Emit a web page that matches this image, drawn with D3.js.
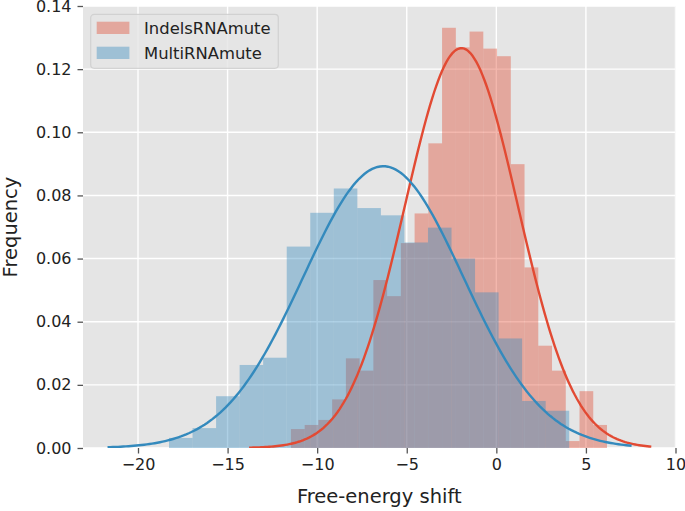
<!DOCTYPE html>
<html><head><meta charset="utf-8">
<script src="https://cdn.jsdelivr.net/npm/d3@7/dist/d3.min.js"></script>
<style>
body{margin:0;background:#fff}
text{font-family:"DejaVu Sans",sans-serif}
</style>
</head><body>
<svg id="chart" width="685" height="511"></svg>
<script>
// ---------------- data ----------------
const seriesNames = ["IndelsRNAmute", "MultiRNAmute"];
const seriesColors = ["#E24A33", "#348ABD"];

// IndelsRNAmute histogram (density), 23 bins
const indelsBinStart = -11.465;
const indelsBinWidth = 0.767;
const indelsFreq = [0.0060, 0.0073, 0.0089, 0.0154, 0.0284, 0.0245, 0.0532, 0.0481,
  0.0649, 0.0743, 0.0965, 0.1331, 0.1269, 0.1319, 0.1265, 0.1241, 0.0899, 0.0572,
  0.0324, 0.0245, 0.0022, 0.0180, 0.0073];

// MultiRNAmute histogram (density), 17 bins
const multiBinStart = -18.27;
const multiBinWidth = 1.314;
const multiFreq = [0.0032, 0.0063, 0.0164, 0.0263, 0.0286, 0.0638, 0.0745, 0.0822,
  0.0760, 0.0737, 0.0651, 0.0698, 0.0600, 0.0493, 0.0347, 0.0149, 0.0118];

// fitted normal curves: [mean, sd, support start, support end]
const indelsFit = [-1.95, 3.15, -13.8, 8.65];
const multiFit = [-6.31, 4.47, -21.7, 7.55];

const xTicks = [-20, -15, -10, -5, 0, 5, 10];
const yTicks = [0.00, 0.02, 0.04, 0.06, 0.08, 0.10, 0.12, 0.14];
const xDomain = [-23.07, 10.0];
const yDomain = [0, 0.14];
const xTitle = "Free-energy shift";
const yTitle = "Frequency";

// ---------------- layout ----------------
const L = 83, R = 675.5, T = 6, B = 448;
const svg = d3.select("#chart");
const x = d3.scaleLinear().domain(xDomain).range([L, R]);
const y = d3.scaleLinear().domain(yDomain).range([B, T]);

svg.append("defs").append("clipPath").attr("id", "clip")
  .append("rect").attr("x", L).attr("y", T).attr("width", R - L).attr("height", B - T);

svg.append("rect").attr("x", L).attr("y", T).attr("width", R - L).attr("height", B - T)
  .attr("fill", "#E5E5E5");

// grid
const grid = svg.append("g").attr("clip-path", "url(#clip)");
grid.selectAll("line.gx").data(xTicks).join("line")
  .attr("x1", d => x(d)).attr("x2", d => x(d)).attr("y1", T).attr("y2", B)
  .attr("stroke", "#fff").attr("stroke-width", 1.4);
grid.selectAll("line.gy").data(yTicks).enter().append("line")
  .attr("x1", L).attr("x2", R).attr("y1", d => y(d)).attr("y2", d => y(d))
  .attr("stroke", "#fff").attr("stroke-width", 1.4);

const plot = svg.append("g").attr("clip-path", "url(#clip)");

function bins(start, width, freq) {
  return freq.map((f, i) => ({x0: start + i * width, x1: start + (i + 1) * width, f}));
}
const hists = [bins(indelsBinStart, indelsBinWidth, indelsFreq),
               bins(multiBinStart, multiBinWidth, multiFreq)];
hists.forEach((h, k) => {
  plot.append("g").selectAll("rect").data(h).join("rect")
    .attr("x", d => x(d.x0)).attr("width", d => x(d.x1) - x(d.x0))
    .attr("y", d => y(d.f)).attr("height", d => y(0) - y(d.f))
    .attr("fill", seriesColors[k]).attr("fill-opacity", 0.4);
});

function fitPoints(p) {
  const [m, s, a, b] = p;
  return d3.range(0, 201).map(i => {
    const xv = a + (b - a) * i / 200;
    return [xv, Math.exp(-0.5 * ((xv - m) / s) ** 2) / (s * Math.sqrt(2 * Math.PI))];
  });
}
const line = d3.line().x(d => x(d[0])).y(d => y(d[1]));
[indelsFit, multiFit].forEach((p, k) => {
  plot.append("path").datum(fitPoints(p)).attr("d", line)
    .attr("fill", "none").attr("stroke", seriesColors[k]).attr("stroke-width", 2.4);
});

// axes
const tickCol = "#555555", labCol = "#222";
const xAxis = d3.axisBottom(x).tickValues(xTicks).tickSize(5.5).tickPadding(5)
  .tickFormat(d => d3.format("")(d).replace("-", "\u2212"));
const gx = svg.append("g").attr("transform", `translate(0,${B})`).call(xAxis);
gx.select(".domain").remove();
gx.selectAll(".tick line").attr("stroke", tickCol).attr("stroke-width", 1.3);
gx.selectAll(".tick text").attr("fill", labCol).style("font-size", "16px")
  .style("font-family", "DejaVu Sans");

const yAxis = d3.axisLeft(y).tickValues(yTicks).tickSize(5.5).tickPadding(6)
  .tickFormat(d3.format(".2f"));
const gy = svg.append("g").attr("transform", `translate(${L},0)`).call(yAxis);
gy.select(".domain").remove();
gy.selectAll(".tick line").attr("stroke", tickCol).attr("stroke-width", 1.3);
gy.selectAll(".tick text").attr("fill", labCol).style("font-size", "16px")
  .style("font-family", "DejaVu Sans");

svg.append("text").attr("x", (L + R) / 2).attr("y", 503).attr("text-anchor", "middle")
  .attr("fill", labCol).style("font-size", "19.5px").text(xTitle);
svg.append("text").attr("transform", `translate(17,${(T + B) / 2}) rotate(-90)`)
  .attr("text-anchor", "middle").attr("fill", labCol).style("font-size", "19.5px").text(yTitle);

// legend
const lg = svg.append("g");
lg.append("rect").attr("x", 90.7).attr("y", 14.3).attr("width", 187.6).attr("height", 54)
  .attr("rx", 3.5).attr("fill", "#E5E5E5").attr("fill-opacity", 0.8)
  .attr("stroke", "#CCCCCC").attr("stroke-opacity", 0.8).attr("stroke-width", 1.2);
seriesNames.forEach((n, i) => {
  lg.append("rect").attr("x", 96.7).attr("y", 21.7 + i * 25).attr("width", 32.7).attr("height", 12.3)
    .attr("fill", seriesColors[i]).attr("fill-opacity", 0.4);
  lg.append("text").attr("x", 144).attr("y", 33.8 + i * 25).attr("fill", labCol)
    .style("font-size", "16.4px").text(n);
});
</script>
</body></html>
